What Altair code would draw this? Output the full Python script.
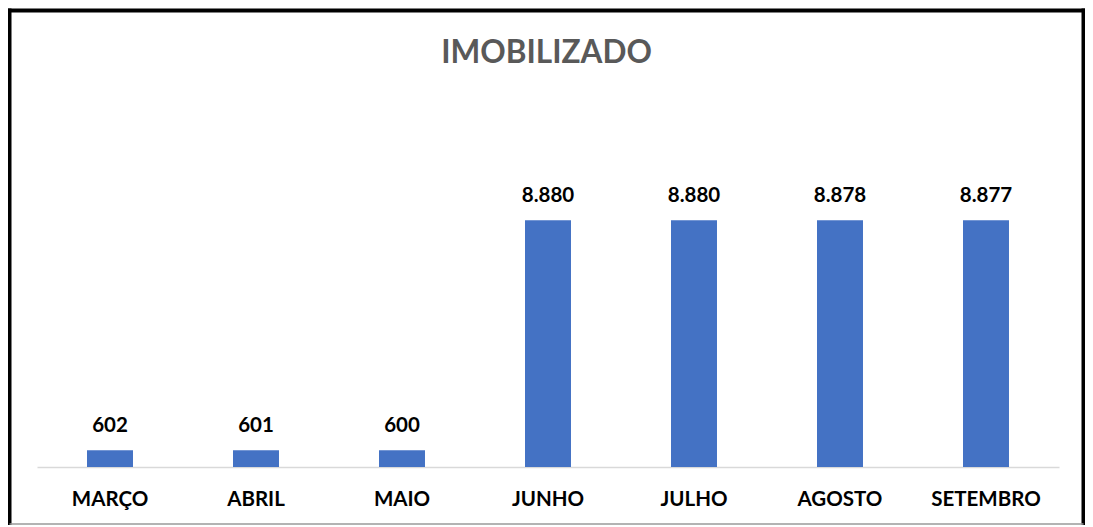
import altair as alt
import pandas as pd

months = ["MARÇO", "ABRIL", "MAIO", "JUNHO", "JULHO", "AGOSTO", "SETEMBRO"]
values = [602, 601, 600, 8880, 8880, 8878, 8877]
title_text = "IMOBILIZADO"

df = pd.DataFrame({"mes": months, "valor": values})
df["rotulo"] = [f"{v:,}".replace(",", ".") for v in values]

FONT = "Lato"
W, H = 1022, 278

x = alt.X("mes:N", sort=months,
          scale=alt.Scale(paddingInner=0.685, paddingOuter=0.3425),
          axis=alt.Axis(title=None, labelAngle=0, ticks=False, tickSize=0,
                        labelPadding=38, labelBaseline="alphabetic",
                        labelFont=FONT, labelFontSize=20.5, labelFontWeight="bold",
                        labelColor="#000000", domainColor="#d9d9d9", domainWidth=1.5,
                        grid=False))
y = alt.Y("valor:Q", scale=alt.Scale(domain=[0, 10000], nice=False), axis=None)

base = alt.Chart(df)
bars = base.mark_bar(color="#4472C4").encode(x=x, y=y)
labels = base.mark_text(dy=-18, baseline="alphabetic", font=FONT, fontSize=20.5,
                        fontWeight="bold", color="#000000").encode(x=x, y=y, text="rotulo:N")

deco = alt.Chart(alt.Data(values=[{}]))
title = deco.mark_text(font=FONT, fontSize=31.5, fontWeight="bold", color="#595959",
                       baseline="alphabetic", align="center").encode(
    x=alt.value(W / 2 - 1.5), y=alt.value(-126), text=alt.value(title_text))

top = deco.mark_rule(color="#000000", strokeWidth=4).encode(
    x=alt.value(-29.5), x2=alt.value(1048.5), y=alt.value(-178.5))
left = deco.mark_rule(color="#000000", strokeWidth=4).encode(
    x=alt.value(-27.5), y=alt.value(-180.5), y2=alt.value(336))
right = deco.mark_rule(color="#000000", strokeWidth=4).encode(
    x=alt.value(1046.5), y=alt.value(-180.5), y2=alt.value(336))
bottom = deco.mark_rule(color="#9a9a9a", strokeWidth=1.5).encode(
    x=alt.value(-27.5), x2=alt.value(1046.5), y=alt.value(335))

chart = alt.layer(bars, labels, title, top, left, right, bottom).properties(
    width=W, height=H,
    autosize=alt.AutoSizeParams(type="none"),
    padding={"left": 29, "top": 181, "right": 26, "bottom": 59},
).configure_view(stroke=None)

chart.save("out.html", embed_options={"renderer": "svg", "actions": False})
